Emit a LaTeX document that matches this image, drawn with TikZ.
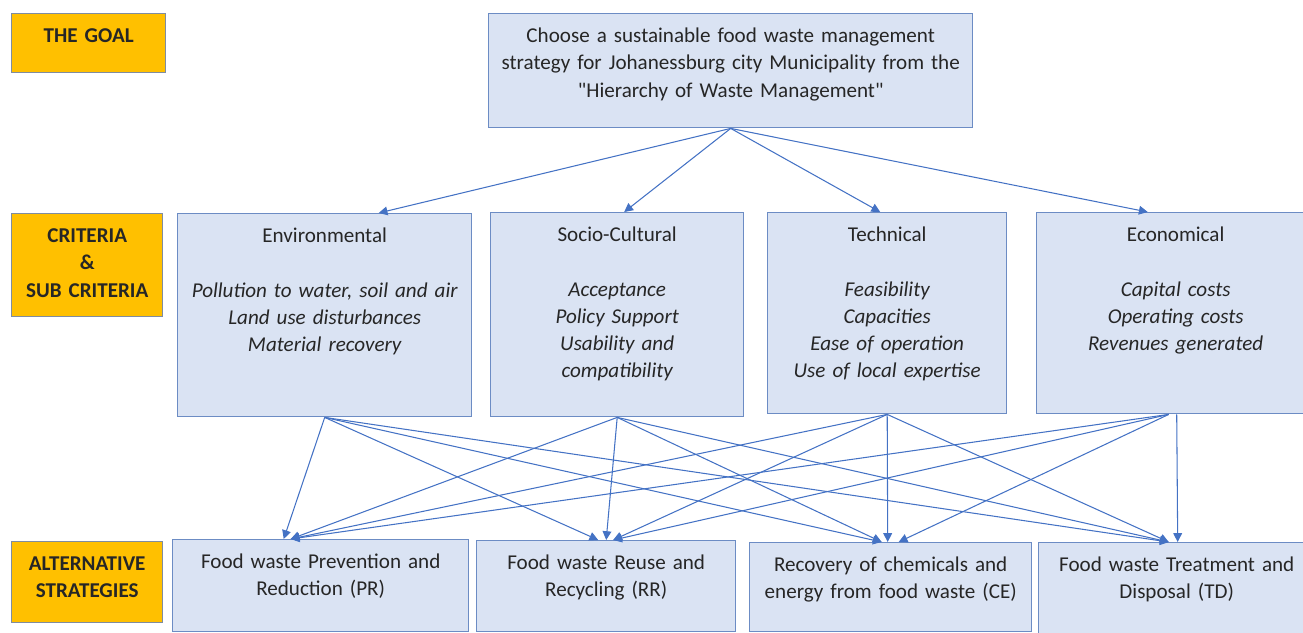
\documentclass[tikz,border=0pt]{standalone}
\usepackage{fontspec}
\setmainfont{Carlito}
\usetikzlibrary{positioning, arrows.meta}
\usepackage{xcolor}
\definecolor{boxfill}{HTML}{DAE3F3}
\definecolor{boxline}{HTML}{6C8CC4}
\definecolor{linkblue}{HTML}{4472C4}
\definecolor{taggold}{HTML}{FFC000}
\definecolor{tagline}{HTML}{7F8CA0}
\definecolor{textgrey}{HTML}{262626}

\begin{document}
\begin{tikzpicture}[
    hbox/.style 2 args={draw=boxline, fill=boxfill, line width=0.8pt, anchor=north west,
        align=center, inner xsep=0pt, inner ysep=0pt, text=textgrey,
        font=\fontsize{12}{15.5}\selectfont,
        text width=#1, text height=0.58cm, text depth=#2},
    tagbox/.style 2 args={draw=tagline, fill=taggold, line width=0.8pt, anchor=north west,
        align=center, inner xsep=0pt, inner ysep=0pt, text=black!85,
        font=\fontsize{12}{15.5}\selectfont\bfseries,
        text width=#1, text height=0.58cm, text depth=#2},
    link/.style={draw=linkblue, line width=0.6pt, -{Triangle[length=5pt, width=5pt]}}
]
        \useasboundingbox (0,0) rectangle (26.06,-12.64);

        % Left side tags
        \node[tagbox={3.08cm}{0.60cm}] (goaltag) at (0.22,-0.26) {THE GOAL};
        \node[tagbox={3.02cm}{1.48cm}] (crittag) at (0.22,-4.26) {CRITERIA\\ \&\\ SUB CRITERIA};
        \node[tagbox={3.02cm}{1.04cm}] (alttag) at (0.22,-10.82) {ALTERNATIVE\\ STRATEGIES};

        % The goal
        \node[hbox={9.68cm}{1.70cm}] (goal) at (9.76,-0.26)
            {Choose a sustainable food waste management\\ strategy for Johanessburg city Municipality from the\\ \textquotedbl Hierarchy of Waste Management\textquotedbl};

        % Criteria and sub criteria
        \node[hbox={5.88cm}{3.48cm}] (env) at (3.54,-4.26)
            {Environmental\\[15.5pt] \itshape Pollution to water, soil and air\\ Land use disturbances\\ Material recovery};
        \node[hbox={5.06cm}{3.50cm}] (socio) at (9.80,-4.24)
            {Socio-Cultural\\[15.5pt] \itshape Acceptance\\ Policy Support\\ Usability and\\ compatibility};
        \node[hbox={4.78cm}{3.44cm}] (tech) at (15.34,-4.24)
            {Technical\\[15.5pt] \itshape Feasibility\\ Capacities\\ Ease of operation\\ Use of local expertise};
        \node[hbox={5.56cm}{3.44cm}] (econ) at (20.72,-4.24)
            {Economical\\[15.5pt] \itshape Capital costs\\ Operating costs\\ Revenues generated};

        % Alternative strategies
        \node[hbox={5.92cm}{1.26cm}] (pr) at (3.44,-10.78) {Food waste Prevention and\\ Reduction (PR)};
        \node[hbox={5.18cm}{1.24cm}] (rr) at (9.52,-10.80) {Food waste Reuse and\\ Recycling (RR)};
        \node[hbox={5.64cm}{1.20cm}] (ce) at (14.98,-10.84) {Recovery of chemicals and\\ energy from food waste (CE)};
        \node[hbox={5.52cm}{1.28cm}] (td) at (20.76,-10.84) {Food waste Treatment and\\ Disposal (TD)};

        % Goal to criteria
        \draw[link] (goal.south) -- ([xshift=1.08cm]env.north);
        \draw[link] (goal.south) -- ([xshift=0.14cm]socio.north);
        \draw[link] (goal.south) -- ([xshift=-0.14cm]tech.north);
        \draw[link] (goal.south) -- ([xshift=-0.56cm]econ.north);

        % Criteria to alternatives
        \draw[link] (env.south) -- ([xshift=-0.74cm]pr.north);
        \draw[link] (env.south) -- ([xshift=-0.16cm]rr.north);
        \draw[link] (env.south) -- ([xshift=-0.18cm]ce.north);
        \draw[link] (env.south) -- ([xshift=-0.16cm]td.north);

        \draw[link] (socio.south) -- ([xshift=-0.60cm]pr.north);
        \draw[link] (socio.south) -- (rr.north);
        \draw[link] (socio.south) -- ([xshift=-0.18cm]ce.north);
        \draw[link] (socio.south) -- ([xshift=-0.16cm]td.north);

        \draw[link] (tech.south) -- ([xshift=-0.60cm]pr.north);
        \draw[link] (tech.south) -- ([xshift=0.14cm]rr.north);
        \draw[link] (tech.south) -- ([xshift=-0.06cm]ce.north);
        \draw[link] (tech.south) -- ([xshift=-0.16cm]td.north);

        \draw[link] ([xshift=-0.14cm]econ.south) -- ([xshift=-0.60cm]pr.north);
        \draw[link] ([xshift=-0.14cm]econ.south) -- ([xshift=0.14cm]rr.north);
        \draw[link] ([xshift=-0.14cm]econ.south) -- ([xshift=0.16cm]ce.north);
        \draw[link] ([xshift=0.02cm]econ.south) -- ([xshift=0.02cm]td.north);

    \end{tikzpicture}
\end{document}
